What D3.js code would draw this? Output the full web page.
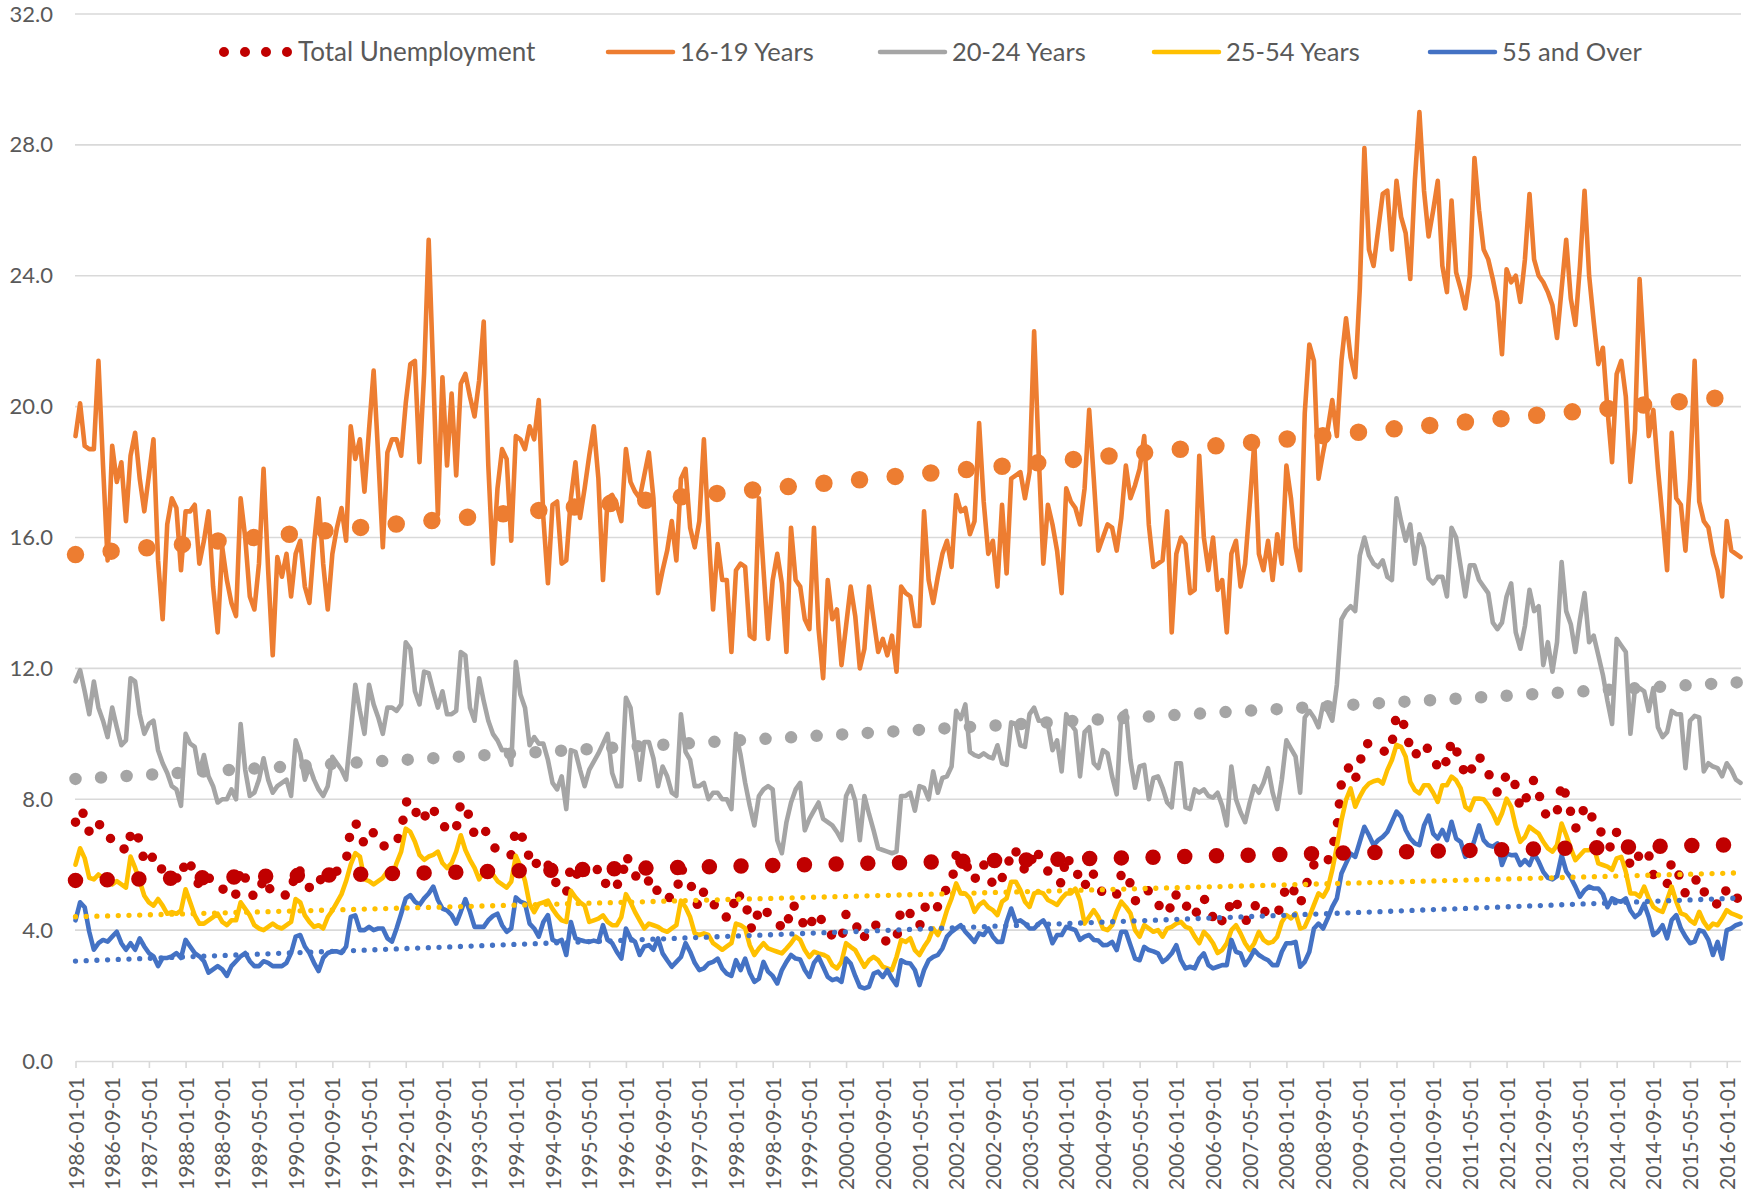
<!DOCTYPE html>
<html>
<head>
<meta charset="utf-8">
<script src="https://cdnjs.cloudflare.com/ajax/libs/d3/7.8.5/d3.min.js"></script>
<style>
  body { margin: 0; background: #fff; }
  text { font-family: Lato, "Open Sans", sans-serif; fill: #595959; }
</style>
</head>
<body>
<svg id="chart" width="1759" height="1190"></svg>
<script>

// monthly categories, Jan 1986 .. Apr 2016
var categories = d3.timeMonth.range(new Date(1986, 0, 1), new Date(2016, 4, 1)).map(d3.timeFormat("%Y-%m-%d"));

var tickLabels = ["1986-01-01","1986-09-01","1987-05-01","1988-01-01","1988-09-01","1989-05-01","1990-01-01","1990-09-01",
  "1991-05-01","1992-01-01","1992-09-01","1993-05-01","1994-01-01","1994-09-01","1995-05-01","1996-01-01","1996-09-01",
  "1997-05-01","1998-01-01","1998-09-01","1999-05-01","2000-01-01","2000-09-01","2001-05-01","2002-01-01","2002-09-01",
  "2003-05-01","2004-01-01","2004-09-01","2005-05-01","2006-01-01","2006-09-01","2007-05-01","2008-01-01","2008-09-01",
  "2009-05-01","2010-01-01","2010-09-01","2011-05-01","2012-01-01","2012-09-01","2013-05-01","2014-01-01","2014-09-01",
  "2015-05-01","2016-01-01"];

var yTicks = [0, 4, 8, 12, 16, 20, 24, 28, 32];

// one row per year
var totalUnemployment = [
  [7.3,7.7,7.5,7.0,7.0,7.3,7.0,6.8,6.8,6.6,6.6,6.4],
  [6.9,7.1,6.7,6.1,6.0,6.3,6.1,5.8,5.7,5.6,5.6,5.5],
  [6.2,6.0,5.8,5.3,5.4,5.6,5.5,5.5,5.3,5.0,5.1,5.1],
  [5.9,5.6,5.2,5.0,5.1,5.6,5.3,5.2,5.1,5.0,5.1,5.1],
  [5.9,5.8,5.5,5.3,5.2,5.5,5.6,5.7,5.8,5.8,6.0,6.1],
  [7.1,7.3,7.0,6.6,6.7,7.0,6.9,6.6,6.5,6.6,6.7,7.0],
  [7.9,8.0,7.7,7.3,7.4,7.8,7.7,7.4,7.3,7.0,7.1,7.1],
  [7.9,7.8,7.4,6.9,6.9,7.1,6.9,6.6,6.4,6.4,6.3,6.3],
  [7.1,7.0,6.6,6.2,5.9,6.2,6.2,6.0,5.6,5.4,5.3,5.1],
  [6.0,5.8,5.5,5.8,5.6,5.7,5.9,5.6,5.3,5.2,5.4,5.4],
  [6.3,6.0,5.7,5.4,5.5,5.5,5.6,5.1,5.0,4.9,5.1,5.1],
  [5.9,5.7,5.5,4.9,4.7,5.2,5.0,4.8,4.7,4.4,4.4,4.4],
  [5.2,5.0,5.0,4.1,4.0,4.7,4.7,4.5,4.4,4.2,4.1,4.0],
  [4.8,4.7,4.4,4.1,4.0,4.5,4.5,4.2,4.1,3.8,3.8,3.7],
  [4.5,4.4,4.3,3.7,3.8,4.1,4.2,4.1,3.8,3.6,3.7,3.7],
  [4.7,4.6,4.5,4.2,4.1,4.7,4.7,4.9,4.7,5.0,5.3,5.4],
  [6.3,6.1,6.1,5.7,5.5,6.0,6.0,5.7,5.4,5.3,5.6,5.7],
  [6.5,6.4,6.2,5.8,5.8,6.5,6.3,6.0,5.8,5.6,5.6,5.4],
  [6.3,6.0,6.0,5.4,5.3,5.8,5.7,5.4,5.1,5.1,5.2,5.1],
  [5.7,5.8,5.4,4.9,4.9,5.2,5.2,4.9,4.8,4.6,4.8,4.6],
  [5.1,5.1,4.8,4.5,4.4,4.8,5.0,4.6,4.4,4.1,4.3,4.3],
  [5.0,4.9,4.5,4.3,4.3,4.7,4.9,4.6,4.5,4.4,4.5,4.8],
  [5.4,5.2,5.2,4.8,5.2,5.7,6.0,6.1,6.0,6.1,6.5,7.1],
  [8.5,8.9,9.0,8.6,9.1,9.7,9.7,9.6,9.5,9.5,9.4,9.7],
  [10.6,10.4,10.2,9.5,9.3,9.6,9.7,9.5,9.2,9.0,9.3,9.1],
  [9.8,9.5,9.2,8.7,8.7,9.3,9.3,9.1,8.8,8.5,8.2,8.3],
  [8.8,8.7,8.4,7.7,7.9,8.4,8.6,8.2,7.6,7.5,7.4,7.6],
  [8.5,8.1,7.6,7.1,7.3,7.8,7.7,7.3,7.0,7.0,6.6,6.5],
  [7.0,7.0,6.8,5.9,6.1,6.3,6.5,6.3,5.7,5.5,5.5,5.4],
  [6.1,5.8,5.6,5.1,5.3,5.5,5.6,5.2,4.9,4.8,4.8,4.8],
  [5.3,5.2,5.1,4.7]
].flat();

var years16to19 = [
  [19.1,20.1,18.8,18.7,18.7,21.4,18.2,15.3,18.8,17.7,18.3,16.5],
  [18.5,19.2,17.8,16.8,17.9,19.0,15.3,13.5,16.4,17.2,16.9,15.0],
  [16.8,16.8,17.0,15.2,15.9,16.8,14.5,13.1,15.7,14.7,14.0,13.6],
  [17.2,16.0,14.2,13.8,15.2,18.1,15.0,12.4,15.4,14.8,15.5,14.2],
  [15.5,15.9,14.5,14.0,15.8,17.2,15.2,13.8,15.5,16.3,16.9,15.9],
  [19.4,18.4,19.0,17.4,19.3,21.1,18.5,15.7,18.6,19.0,19.0,18.5],
  [20.1,21.3,21.4,18.3,21.0,25.1,21.0,16.7,20.9,18.2,20.4,17.9],
  [20.7,21.0,20.3,19.7,20.8,22.6,18.2,15.2,17.5,18.7,18.4,15.9],
  [19.1,19.0,18.7,19.4,19.0,20.2,16.6,14.6,17.0,17.1,15.2,15.3],
  [17.2,18.3,16.6,17.5,18.5,19.4,17.8,14.7,17.2,17.3,17.0,16.5],
  [18.7,17.7,17.4,17.2,17.9,18.6,17.2,14.3,15.0,15.6,16.5,15.3],
  [17.8,18.1,16.3,15.7,16.5,19.0,16.2,13.8,15.8,14.7,14.7,12.5],
  [15.0,15.2,15.1,13.0,12.9,17.2,15.0,12.9,14.7,15.5,14.6,12.5],
  [16.3,14.7,14.5,13.5,13.2,16.3,13.2,11.7,14.7,13.5,13.8,12.1],
  [13.3,14.5,13.6,12.0,12.6,14.5,13.5,12.5,12.9,12.4,13.0,11.9],
  [14.5,14.3,14.2,13.3,13.3,16.8,14.7,14.0,14.8,15.5,15.9,15.1],
  [17.3,16.8,16.9,16.1,16.5,19.5,17.1,15.5,15.9,14.5,17.0,14.9],
  [17.8,17.9,18.0,17.2,18.0,22.3,18.5,15.2,17.0,16.4,15.6,14.3],
  [17.5,17.1,16.9,16.4,17.5,19.9,17.8,15.6,16.0,16.4,16.3,15.6],
  [16.6,18.2,17.2,17.6,18.1,19.1,16.4,15.1,15.2,15.3,16.8,13.1],
  [15.5,16.0,15.8,14.3,14.4,18.5,16.0,15.0,16.0,14.4,14.7,13.1],
  [15.5,15.9,14.5,15.2,17.0,18.9,15.5,15.0,15.9,14.7,16.1,15.2],
  [18.2,17.2,15.7,15.0,19.8,21.9,21.4,17.8,18.6,19.3,20.2,19.1],
  [21.4,22.7,21.5,20.9,23.6,27.9,24.8,24.3,25.4,26.5,26.6,24.8],
  [26.9,25.8,25.3,23.9,26.9,29.0,26.6,25.2,26.0,26.9,24.3,23.5],
  [26.3,24.1,23.6,23.0,24.0,27.6,26.0,24.8,24.5,23.9,23.2,21.6],
  [24.2,23.8,24.0,23.2,24.5,26.5,24.5,24.0,23.8,23.5,23.1,22.1],
  [23.6,25.1,23.3,22.5,24.3,26.6,24.0,22.6,21.3,21.8,19.9,18.3],
  [21.0,21.4,20.3,17.7,19.3,23.9,21.5,19.1,19.9,18.1,16.6,15.0],
  [19.2,17.2,17.0,15.6,17.8,21.4,17.1,16.5,16.3,15.5,15.0,14.2],
  [16.5,15.6,15.5,15.4]
].flat();

var years20to24 = [
  [11.6,11.95,11.3,10.6,11.6,10.8,10.4,9.9,10.8,10.2,9.65,9.8],
  [11.7,11.6,10.6,10.0,10.3,10.4,9.5,9.1,8.8,8.4,8.3,7.8],
  [10.0,9.7,9.6,8.8,9.35,8.7,8.4,7.9,8.0,8.0,8.3,8.0],
  [10.3,8.9,8.1,8.2,8.6,9.25,8.6,8.2,8.4,8.5,8.6,8.1],
  [9.8,9.4,8.6,9.0,8.6,8.3,8.1,8.4,9.3,9.1,8.9,8.6],
  [10.0,11.5,10.7,10.0,11.5,10.9,10.5,10.0,10.8,10.8,10.7,10.9],
  [12.8,12.6,11.3,10.9,11.9,11.85,11.3,10.8,11.3,10.6,10.6,10.7],
  [12.5,12.4,10.8,10.4,11.7,11.0,10.4,10.0,9.8,9.5,9.5,9.05],
  [12.2,11.2,10.8,9.65,9.9,9.7,9.7,9.2,8.5,8.3,8.7,7.7],
  [9.5,9.45,8.9,8.4,8.9,9.15,9.4,9.7,10.0,8.8,8.4,8.4],
  [11.1,10.8,9.6,8.6,9.75,9.75,9.25,8.4,9.0,8.7,8.2,8.1],
  [10.6,9.45,9.2,8.4,8.4,8.5,8.0,8.2,8.2,8.0,8.0,7.7],
  [10.0,9.35,8.5,7.8,7.2,8.1,8.3,8.4,8.3,6.75,6.35,7.3],
  [7.9,8.3,8.5,7.05,7.4,7.65,7.9,7.4,7.3,7.2,7.0,6.75],
  [8.1,8.4,7.95,6.75,8.1,7.55,7.05,6.5,6.45,6.4,6.35,6.4],
  [8.1,8.1,8.2,7.65,8.4,8.35,8.0,8.85,8.2,8.65,8.7,9.0],
  [10.7,10.45,10.9,9.45,9.35,9.3,9.4,9.3,9.25,9.65,9.1,9.05],
  [10.35,10.3,9.65,9.6,10.6,10.8,10.4,10.4,10.3,9.5,9.8,8.85],
  [10.6,10.3,10.1,8.7,10.05,10.2,9.1,8.95,9.5,9.4,8.7,8.15],
  [10.6,10.7,9.2,8.35,9.0,9.05,8.0,8.65,8.7,8.35,7.9,7.75],
  [9.1,9.1,7.75,7.7,8.3,8.2,8.3,8.1,8.05,8.2,7.8,7.2],
  [9.0,8.0,7.6,7.3,7.9,8.4,8.2,8.5,8.95,8.2,7.7,8.6],
  [9.8,9.55,9.3,8.2,10.5,10.7,10.5,10.2,10.9,10.7,10.4,11.5],
  [13.5,13.75,13.9,13.75,15.45,16.0,15.45,15.2,15.1,15.3,14.8,14.7],
  [17.2,16.5,15.9,16.4,15.2,16.1,15.7,14.75,14.6,14.8,14.8,14.2],
  [16.3,16.0,15.1,14.2,15.15,15.15,14.7,14.5,14.3,13.4,13.2,13.4],
  [14.2,14.6,13.1,12.6,13.3,14.4,13.75,13.9,12.1,12.8,11.9,12.8],
  [15.25,13.75,13.35,12.5,13.5,14.3,12.8,13.0,12.4,11.8,11.0,10.3],
  [12.9,12.7,12.5,10.0,11.4,11.4,11.3,10.7,11.4,10.2,9.9,10.05],
  [10.7,10.6,10.6,8.95,10.4,10.55,10.5,8.85,9.1,9.0,8.95,8.7],
  [9.1,8.9,8.6,8.5]
].flat();

var years25to54 = [
  [6.0,6.5,6.2,5.6,5.55,5.7,5.6,5.6,5.4,5.5,5.4,5.3],
  [6.25,5.9,5.5,5.05,4.85,4.75,4.95,4.75,4.5,4.55,4.5,4.6],
  [5.25,4.85,4.45,4.2,4.2,4.3,4.4,4.5,4.25,4.15,4.3,4.3],
  [4.85,4.65,4.45,4.15,4.05,4.0,4.1,4.2,4.1,4.05,4.15,4.25],
  [4.95,4.85,4.45,4.25,4.1,4.15,4.05,4.4,4.6,4.85,5.1,5.5],
  [6.0,6.35,6.25,5.55,5.5,5.4,5.5,5.6,5.8,5.6,6.05,6.4],
  [7.1,7.0,6.7,6.3,6.15,6.25,6.3,6.4,6.05,5.9,6.05,6.4],
  [6.9,6.45,6.15,5.9,5.55,5.8,5.75,5.7,5.5,5.4,5.3,5.48],
  [6.27,5.95,5.5,4.8,4.55,4.8,4.85,4.9,4.65,4.45,4.3,4.25],
  [5.2,5.0,4.85,4.75,4.25,4.3,4.35,4.45,4.25,4.15,4.15,4.4],
  [5.1,4.85,4.55,4.3,4.05,4.2,4.15,4.1,4.0,3.95,4.05,4.15],
  [4.9,4.7,4.4,3.9,3.85,3.9,3.85,3.6,3.5,3.4,3.5,3.6],
  [4.2,4.15,4.05,3.54,3.24,3.44,3.6,3.44,3.39,3.34,3.29,3.44],
  [3.6,3.8,3.7,3.39,3.18,3.34,3.29,3.25,3.18,2.93,2.83,3.03],
  [3.6,3.49,3.39,3.13,2.88,3.08,3.18,3.08,2.88,2.83,2.78,3.18],
  [3.7,3.64,3.75,3.39,3.24,3.49,3.7,4.05,3.85,4.15,4.61,4.97],
  [5.43,5.12,5.12,4.97,4.56,4.77,4.87,4.7,4.61,4.46,4.87,4.97],
  [5.48,5.48,5.22,4.87,4.71,5.12,5.17,5.12,4.92,4.85,4.77,4.97],
  [5.12,5.12,5.27,4.9,4.2,4.41,4.61,4.4,4.05,4.0,4.15,4.56],
  [4.87,4.71,4.51,4.0,3.8,4.15,4.05,3.95,4.0,3.8,4.05,4.1],
  [4.2,4.25,4.1,4.05,3.8,3.6,3.95,3.8,3.6,3.3,3.39,3.6],
  [4.0,4.15,3.9,3.6,3.39,3.6,3.95,3.7,3.6,3.64,3.8,4.25],
  [4.46,4.36,4.51,4.05,4.1,4.41,4.77,5.12,5.02,5.27,5.84,6.55],
  [7.36,7.98,8.33,7.77,8.08,8.33,8.48,8.55,8.59,8.48,8.89,9.2],
  [9.66,9.6,9.3,8.53,8.28,8.18,8.43,8.43,8.2,7.92,8.43,8.43],
  [8.69,8.58,8.33,7.77,7.67,8.02,8.02,8.0,7.82,7.57,7.26,7.57],
  [8.02,7.77,7.16,6.7,6.85,7.16,7.05,6.95,6.7,6.5,6.4,6.6],
  [7.26,6.9,6.5,6.14,6.29,6.44,6.44,6.55,6.04,5.99,5.94,5.84],
  [6.19,6.24,5.78,5.12,5.12,5.02,5.33,4.97,4.71,4.61,4.56,4.92],
  [5.33,4.87,4.51,4.46,4.3,4.2,4.56,4.25,4.05,4.2,4.15,4.36],
  [4.61,4.51,4.46,4.4]
].flat();

var years55over = [
  [4.3,4.85,4.7,3.95,3.4,3.6,3.7,3.65,3.8,3.95,3.6,3.4],
  [3.6,3.4,3.75,3.5,3.3,3.2,2.9,3.15,3.15,3.2,3.3,3.15],
  [3.7,3.5,3.3,3.2,3.05,2.7,2.8,2.9,2.8,2.6,2.9,3.05],
  [3.2,3.3,3.05,2.9,2.9,3.05,3.0,2.9,2.9,2.9,3.0,3.3],
  [3.8,3.85,3.5,3.3,3.0,2.75,3.15,3.3,3.35,3.35,3.3,3.5],
  [4.4,4.45,4.0,4.0,4.1,4.0,4.05,4.05,3.75,3.65,4.05,4.5],
  [4.97,5.07,4.87,4.77,4.97,5.12,5.33,4.92,4.66,4.6,4.46,4.2],
  [4.56,4.95,4.56,4.1,4.1,4.1,4.3,4.43,4.5,4.15,3.95,4.05],
  [5.0,4.87,4.82,4.2,4.05,3.8,4.25,4.46,3.7,3.64,3.7,3.24],
  [4.25,3.75,3.7,3.66,3.64,3.68,3.64,4.15,3.7,3.6,3.34,3.13],
  [4.05,3.75,3.64,3.24,3.5,3.54,3.4,3.75,3.29,3.08,2.88,3.03],
  [3.18,3.6,3.34,3.0,2.78,2.83,2.98,3.03,3.13,2.83,2.67,2.6],
  [3.08,2.78,3.13,2.7,2.42,2.52,3.03,2.73,2.6,2.37,2.78,3.03],
  [3.24,3.13,3.1,2.78,2.57,3.0,3.18,2.88,2.57,2.47,2.52,2.42],
  [3.13,2.98,2.6,2.27,2.22,2.27,2.67,2.73,2.57,2.78,2.52,2.32],
  [3.08,3.0,2.98,2.78,2.32,2.78,3.08,3.18,3.24,3.44,3.8,3.95],
  [4.05,4.15,3.95,3.8,3.64,3.9,3.85,4.05,3.8,3.64,3.64,4.25],
  [4.66,4.25,4.3,4.2,4.05,4.05,4.2,4.3,4.05,3.6,3.85,3.85],
  [4.1,4.05,4.0,3.7,3.8,3.85,3.7,3.68,3.54,3.55,3.64,3.39],
  [3.95,3.95,3.54,3.13,3.08,3.49,3.39,3.35,3.29,3.03,3.13,3.29],
  [3.54,3.08,2.83,2.88,2.83,3.13,3.29,2.93,2.83,2.88,2.93,2.93],
  [3.7,3.34,3.29,2.93,3.13,3.39,3.24,3.15,3.08,2.93,2.93,3.34],
  [3.6,3.6,3.64,2.88,3.03,3.34,4.05,4.2,4.05,4.36,4.71,4.97],
  [5.73,6.04,6.34,6.24,6.7,7.16,6.9,6.6,6.75,6.85,7.0,7.31],
  [7.62,7.47,7.06,6.8,6.65,6.6,7.2,7.5,6.95,6.8,7.06,6.75],
  [7.31,6.8,6.7,6.24,6.34,6.75,7.2,6.75,6.6,6.55,6.65,5.99],
  [6.34,6.29,6.3,5.99,6.14,5.99,6.34,6.09,5.78,5.6,5.55,5.65],
  [6.29,5.8,5.6,5.33,5.02,5.22,5.33,5.27,5.27,5.1,4.7,4.97],
  [4.9,4.87,4.97,4.6,4.4,4.51,4.8,4.4,3.85,3.95,4.15,3.75],
  [4.31,4.46,4.05,3.8,3.6,3.65,4.0,3.95,3.7,3.24,3.64,3.13],
  [4.0,4.05,4.15,4.2]
].flat();

var seriesNames = ["Total Unemployment", "16-19 Years", "20-24 Years", "25-54 Years", "55 and Over"];
var seriesValues = [totalUnemployment, years16to19, years20to24, years25to54, years55over];
var seriesColors = ["#C00000", "#ED7D31", "#A5A5A5", "#FFC000", "#4472C4"];

// trendline dot size / spacing per series
var trendDot = [15.5, 17.5, 12.5, 5.3, 5.3];
var trendGap = [31.7, 35.8, 25.6, 10.7, 10.7];

var svg = d3.select("#chart");

var x = d3.scalePoint().domain(categories).range([75.5, 1740.5]);
var y = d3.scaleLinear().domain([0, 32]).range([1061, 14]);

// gridlines
svg.append("g")
  .selectAll("line")
  .data(yTicks.filter(function(d) { return d > 0; }))
  .enter()
  .append("line")
    .attr("x1", 75).attr("x2", 1741)
    .attr("y1", function(d) { return y(d); })
    .attr("y2", function(d) { return y(d); })
    .attr("stroke", "#D9D9D9")
    .attr("stroke-width", 1.6);

// x axis
var xAxis = svg.append("g")
  .attr("transform", "translate(0," + y(0) + ")")
  .call(d3.axisBottom(x).tickValues(tickLabels).tickSize(7).tickSizeOuter(0));
xAxis.attr("font-family", null).attr("font-size", null);
xAxis.select(".domain").attr("stroke", "#D9D9D9").attr("stroke-width", 1.6);
xAxis.selectAll(".tick line").attr("stroke", "#D9D9D9").attr("stroke-width", 1.6);
xAxis.selectAll(".tick text")
  .attr("transform", "rotate(-90)")
  .attr("x", -16)
  .attr("y", 0)
  .attr("dy", "0.36em")
  .style("text-anchor", "end")
  .style("font-size", "21px")
  .attr("fill", "#595959");

// y axis (labels only)
var yAxis = svg.append("g")
  .attr("transform", "translate(75,0)")
  .call(d3.axisLeft(y).tickValues(yTicks).tickFormat(d3.format(".1f")).tickSize(0).tickPadding(22));
yAxis.attr("font-family", null).attr("font-size", null);
yAxis.select(".domain").remove();
yAxis.selectAll(".tick text").style("font-size", "22px").attr("fill", "#595959");

var line = d3.line()
  .x(function(d, i) { return x(categories[i]); })
  .y(function(d) { return y(d); });

// series
seriesValues.forEach(function(vals, k) {
  var p = svg.append("path")
    .datum(vals)
    .attr("d", line)
    .attr("fill", "none")
    .attr("stroke", seriesColors[k])
    .attr("stroke-linejoin", "round")
    .attr("stroke-linecap", "round");
  if (k === 0) {
    p.attr("stroke-width", 9.5).attr("stroke-dasharray", "0 19");
  } else {
    p.attr("stroke-width", 4.6);
  }
});

// linear trendlines (least squares over month index)
function linearFit(vals) {
  var mx = d3.mean(vals, function(d, i) { return i; });
  var my = d3.mean(vals);
  var sxy = 0, sxx = 0;
  vals.forEach(function(v, i) { sxy += (i - mx) * (v - my); sxx += (i - mx) * (i - mx); });
  var b = sxy / sxx;
  return { a: my - b * mx, b: b };
}

seriesValues.forEach(function(vals, k) {
  var fit = linearFit(vals);
  var n = vals.length - 1;
  svg.append("line")
    .attr("x1", x(categories[0])).attr("y1", y(fit.a))
    .attr("x2", x(categories[n])).attr("y2", y(fit.a + fit.b * n))
    .attr("stroke", seriesColors[k])
    .attr("stroke-width", trendDot[k])
    .attr("stroke-linecap", "round")
    .attr("stroke-dasharray", "0 " + trendGap[k]);
});

// legend
var legendX = [219, 606, 878, 1152, 1428];
var legend = svg.append("g").attr("transform", "translate(0,52)");
seriesNames.forEach(function(name, k) {
  var x0 = legendX[k];
  if (k === 0) {
    legend.append("line")
      .attr("x1", x0 + 5).attr("x2", x0 + 70).attr("y1", 0).attr("y2", 0)
      .attr("stroke", seriesColors[k]).attr("stroke-width", 10)
      .attr("stroke-linecap", "round").attr("stroke-dasharray", "0 21");
    legend.append("text").attr("x", x0 + 79).attr("y", 0).attr("dy", "0.36em")
      .style("font-size", "26px").text(name);
  } else {
    legend.append("line")
      .attr("x1", x0 + 2).attr("x2", x0 + 67).attr("y1", 0).attr("y2", 0)
      .attr("stroke", seriesColors[k]).attr("stroke-width", 4.5)
      .attr("stroke-linecap", "round");
    legend.append("text").attr("x", x0 + 74).attr("y", 0).attr("dy", "0.36em")
      .style("font-size", "25.5px").text(name);
  }
});

</script>
</body>
</html>
